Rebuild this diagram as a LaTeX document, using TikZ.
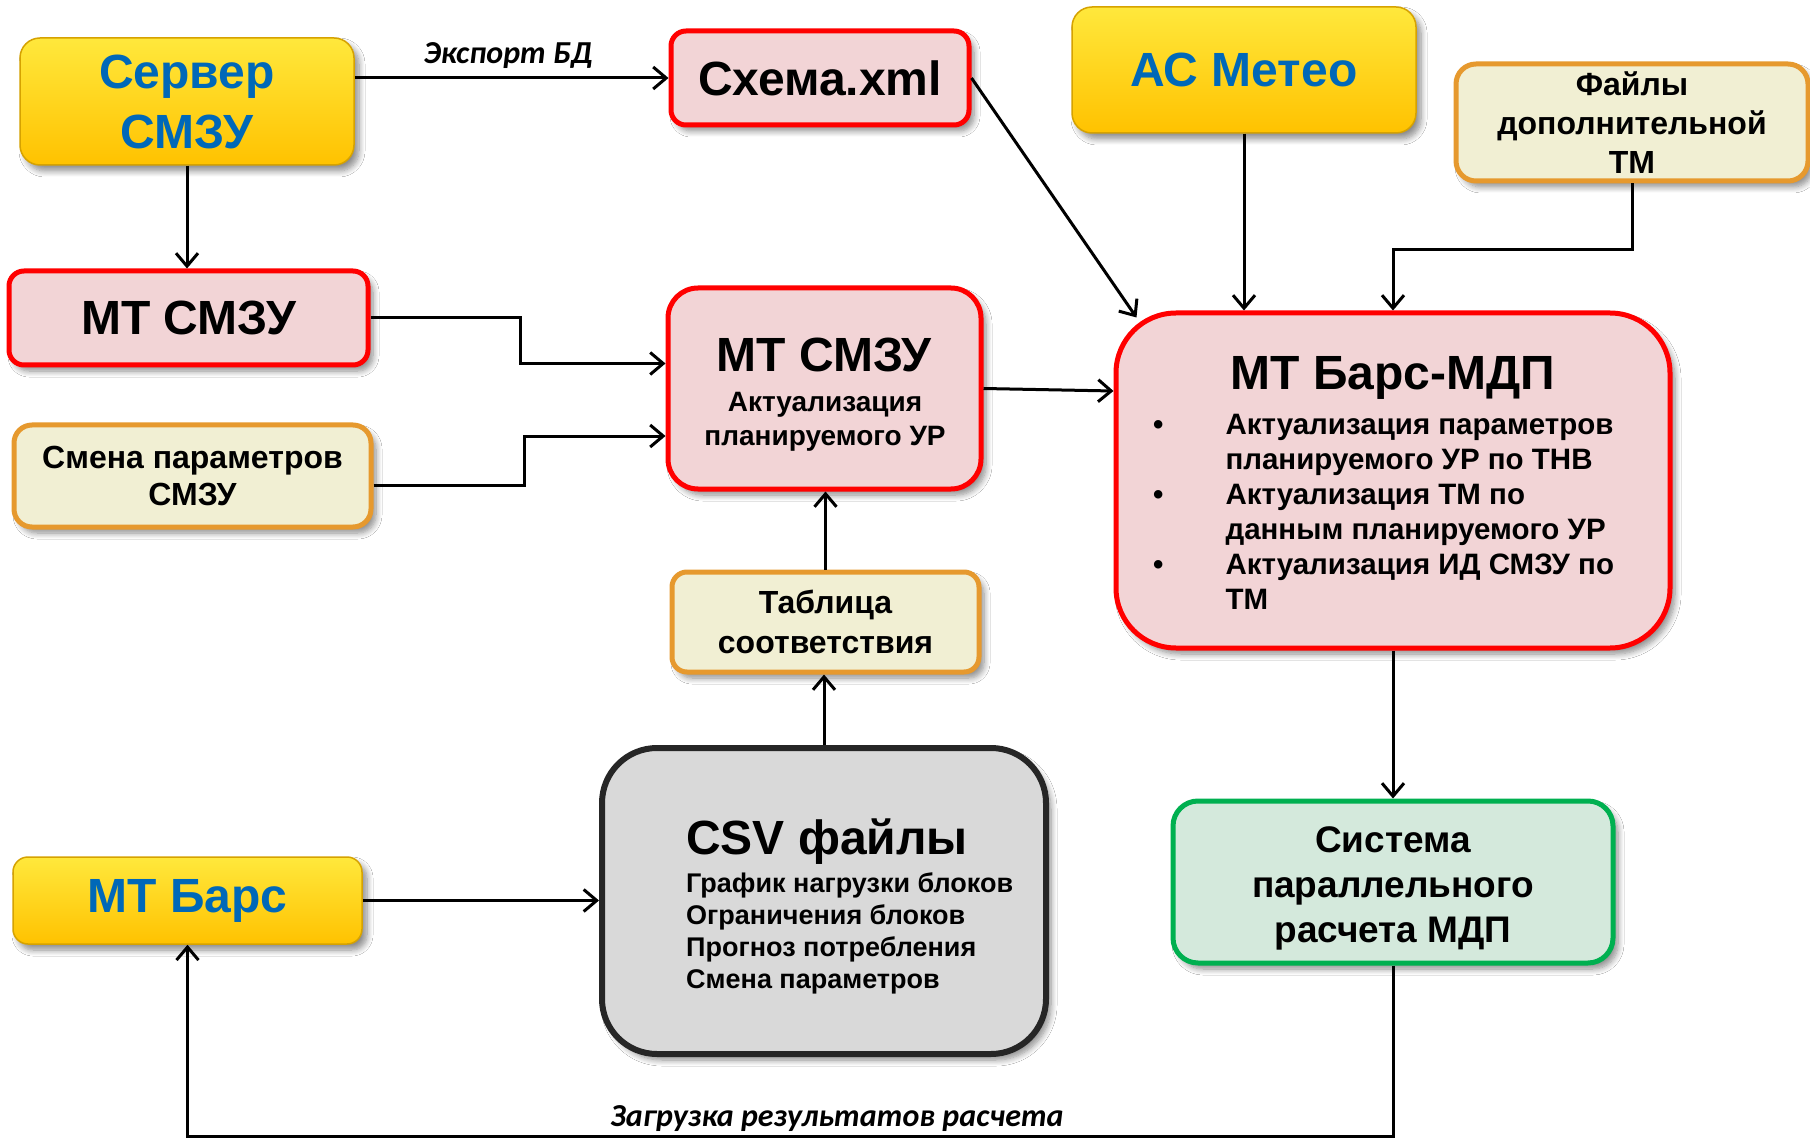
\documentclass[tikz,border=0pt]{standalone}
\usepackage{fontspec}
\setmainfont{Liberation Sans}
\newfontfamily\lblfont{Carlito}
\usetikzlibrary{arrows.meta,shadows,shadows.blur,calc}
\definecolor{txtblue}{HTML}{0068B8}
\definecolor{ytop}{HTML}{FFE83C}
\definecolor{ybot}{HTML}{FFC200}
\definecolor{yedge}{HTML}{D6A200}
\definecolor{redfill}{HTML}{F2D4D6}
\definecolor{redline}{HTML}{FF0000}
\definecolor{creamfill}{HTML}{F1EFD3}
\definecolor{orangeline}{HTML}{E6992E}
\definecolor{grayfill}{HTML}{D9D9D9}
\definecolor{darkline}{HTML}{262626}
\definecolor{greenfill}{HTML}{D4E9DC}
\definecolor{greenline}{HTML}{00B050}
\begin{document}
\begin{tikzpicture}[x=1pt,y=-1pt,
  shad/.style={blur shadow={shadow xshift=5pt,shadow yshift=-6pt,shadow blur steps=8,shadow blur radius=6pt,shadow opacity=45}},
  base/.style={shad,inner sep=0pt,align=center,font=\bfseries},
  ybox/.style={base,draw=yedge,line width=1.5pt,top color=ytop,bottom color=ybot,text=txtblue,font=\bfseries\fontsize{48}{60}\selectfont},
  rbox/.style={base,draw=redline,line width=5pt,fill=redfill},
  obox/.style={base,draw=orangeline,line width=5pt,fill=creamfill},
  gbox/.style={base,draw=darkline,line width=6pt,fill=grayfill},
  sbox/.style={base,draw=greenline,line width=5pt,fill=greenfill},
  big/.style={font=\bfseries\fontsize{48}{60}\selectfont},
  conn/.style={line width=3pt,-{Straight Barb[length=13pt,width=22pt,line width=3pt]}},
  lbl/.style={font=\lblfont\bfseries\itshape\fontsize{32}{38}\selectfont,inner sep=0pt},
  txt/.style={inner sep=0pt,align=left}
]
\useasboundingbox (0,0) rectangle (1810,1139);
\fill[white] (0,0) rectangle (1810,1139);

% boxes
\node[ybox,rounded corners=20pt,minimum width=334pt,minimum height=127pt] (server) at (187,101.5) {Сервер\\СМЗУ};
\node[rbox,rounded corners=15pt,minimum width=298pt,minimum height=94pt,big] (schema) at (820,78) {Схема.xml};
\node[ybox,rounded corners=20pt,minimum width=344pt,minimum height=126pt] (meteo) at (1244,70) {АС Метео};
\node[obox,rounded corners=20pt,minimum width=352pt,minimum height=117pt,font=\bfseries\fontsize{32}{39}\selectfont] (files) at (1632,122.5) {Файлы\\дополнительной\\ТМ};
\node[rbox,rounded corners=15pt,minimum width=359pt,minimum height=94pt,big] (mtsmzu1) at (188.5,318) {МТ СМЗУ};
\node[obox,rounded corners=18pt,minimum width=357pt,minimum height=102pt,font=\bfseries\fontsize{32}{37}\selectfont] (change) at (192.5,476) {Смена параметров\\СМЗУ};
\node[rbox,rounded corners=30pt,minimum width=313pt,minimum height=201pt] (mtsmzu2) at (824.5,388.5) {};
\node[inner sep=0pt,big] (t2) at (824,355) {МТ СМЗУ};
\node[inner sep=0pt,align=center,font=\bfseries\fontsize{28}{34}\selectfont] (s2) at (825,421.5) {Актуализация\\планируемого УР};
\node[obox,rounded corners=15pt,minimum width=307pt,minimum height=100pt,font=\bfseries\fontsize{32}{40}\selectfont] (table) at (825.5,622) {Таблица\\соответствия};
\node[gbox,rounded corners=55pt,minimum width=444pt,minimum height=306pt] (csv) at (824,901) {};
\node[inner sep=0pt,anchor=west,big] (csvt) at (686,842) {CSV файлы};
\node[txt,anchor=west,font=\bfseries\fontsize{27}{32}\selectfont] (csvb) at (686,933) {График нагрузки блоков\\Ограничения блоков\\Прогноз потребления\\Смена параметров};
\node[ybox,rounded corners=15pt,minimum width=349pt,minimum height=87pt] (bars) at (187.5,900.5) {МТ Барс};
\node[rbox,rounded corners=60pt,minimum width=554pt,minimum height=335pt] (barsmdp) at (1393,480.5) {};
\node[inner sep=0pt,big] (bt) at (1393,378) {МТ Барс-МДП};
\node[txt,anchor=north west,font=\bfseries\fontsize{29.5}{35}\selectfont] (bb) at (1153,409.5) {\begin{tabular}{@{}l@{\hspace{62pt}}l@{}}
\textbullet & Актуализация параметров\\
 & планируемого УР по ТНВ\\
\textbullet & Актуализация ТМ по\\
 & данным планируемого УР\\
\textbullet & Актуализация ИД СМЗУ по\\
 & ТМ
\end{tabular}};
\node[sbox,rounded corners=25pt,minimum width=440pt,minimum height=162pt] (system) at (1393,882) {};
\node[inner sep=0pt,align=center,font=\bfseries\fontsize{37}{45}\selectfont] (syst) at (1393,888) {Система\\параллельного\\расчета МДП};

% labels
\node[lbl] (exp) at (508,56) {Экспорт БД};
\node[lbl] (load) at (837,1119) {Загрузка результатов расчета};

% connectors
\coordinate (low) at (0,1136);
\draw[conn] (server.east |- schema.west) -- (schema.west);
\draw[conn] (server.south) -- (server.south |- mtsmzu1.north);
\draw[conn] (mtsmzu1.east) -- ++(150,0) |- ($(mtsmzu2.west)+(0,-25)$);
\draw[conn] ($(change.east)+(0,9)$) -- ++(151,0) |- ($(mtsmzu2.west)+(0,47.5)$);
\draw[conn] (schema.east) -- ($(barsmdp.north west)+(23,7)$);
\draw[conn] (meteo.south) -- (meteo.south |- barsmdp.north);
\draw[conn] (files.south) -- ++(0,66) -| (barsmdp.north);
\draw[conn] (mtsmzu2.east) -- ($(barsmdp.west)+(0,-89.5)$);
\draw[conn] (table.north) -- (table.north |- mtsmzu2.south);
\draw[conn] (csv.north) -- (csv.north |- table.south);
\draw[conn] (bars.east) -- (bars.east -| csv.west);
\draw[conn] (barsmdp.south) -- (barsmdp.south |- system.north);
\draw[conn] (system.south) -- (system.south |- low) -- (bars.south |- low) -- (bars.south);
\end{tikzpicture}
\end{document}
